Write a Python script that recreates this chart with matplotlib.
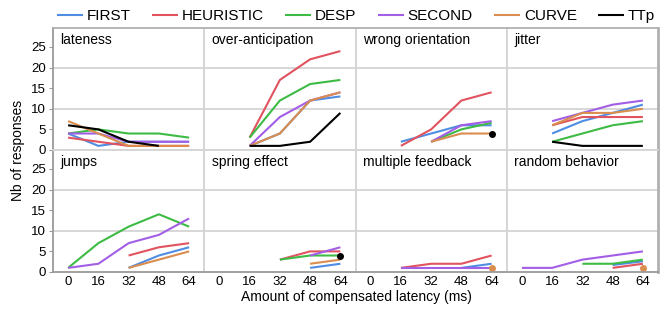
import numpy as np
import matplotlib.pyplot as plt

plt.rcParams['font.family'] = ['Liberation Sans', 'DejaVu Sans']

nan = np.nan
latency = [0, 16, 32, 48, 64]
panels = ['lateness', 'over-anticipation', 'wrong orientation', 'jitter',
          'jumps', 'spring effect', 'multiple feedback', 'random behavior']
series = ['FIRST', 'HEURISTIC', 'DESP', 'SECOND', 'CURVE', 'TTp']
colors = ['#4f8de3', '#e0535f', '#3dbb45', '#a35ee6', '#d98d4e', '#000000']

# one row per panel, one column per latency
first = [[4, 1, 2, 2, 2], [nan, 1, 4, 12, 13], [nan, 2, 4, 6, 6], [nan, 4, 7, 9, 11],
         [nan, nan, 1, 4, 6], [nan, nan, nan, 1, 2], [nan, nan, nan, 1, 2],
         [nan, nan, nan, 1.7, 2.6]]
heuristic = [[3, 2, 1, 1, 1], [nan, 3, 17, 22, 24], [nan, 1, 5, 12, 14], [nan, 6, 8, 8, 8],
             [nan, nan, 4, 6, 7], [nan, nan, 3, 5, 5], [nan, 1, 2, 2, 4],
             [nan, nan, nan, 1, 2]]
desp = [[4, 5, 4, 4, 3], [nan, 3, 12, 16, 17], [nan, nan, 2, 5, 6.6], [nan, 2, 4, 6, 7],
        [1, 7, 11, 14, 11], [nan, nan, 3, 4, 4], [nan, nan, nan, nan, nan],
        [nan, nan, 2, 2, 3]]
second = [[4, 4, 2, 2, 2], [nan, 1, 8, 12, 14], [nan, nan, 2, 6, 7], [nan, 7, 9, 11, 12],
          [1, 2, 7, 9, 13], [nan, nan, nan, 4, 6], [nan, 1, 1, 1, 1],
          [1, 1, 3, 4, 5]]
curve = [[7, 4, 1, 1, 1], [nan, 1, 4, 12, 14], [nan, nan, 2, 4, 4], [nan, 6, 9, 9, 10],
         [nan, nan, 1, 3, 5], [nan, nan, nan, 2, 3], [nan, nan, nan, nan, 1],
         [nan, nan, nan, nan, 1]]
ttp = [[6, 5, 2, 1, nan], [nan, 1, 1, 2, 9], [nan, nan, nan, nan, 4], [nan, 2, 1, 1, 1],
       [nan, nan, nan, nan, nan], [nan, nan, nan, nan, 4], [nan, nan, nan, nan, nan],
       [nan, nan, nan, nan, nan]]
all_series = [first, heuristic, desp, second, curve, ttp]

W, H = 668, 309
fig = plt.figure(figsize=(W / 100, H / 100), dpi=100)

x0, pw = 53, 151.25
rows_top = [28, 150]
ph = 122
light = '#d4d4d4'
dark = '#9a9a9a'

for i, name in enumerate(panels):
    r, c = divmod(i, 4)
    left = (x0 + c * pw) / W
    bottom = 1 - (rows_top[r] + ph) / H
    ax = fig.add_axes([left, bottom, pw / W, ph / H])
    ax.set_xlim(-8, 72)
    ax.set_ylim(0, 29.6)
    ax.set_yticks([0, 5, 10, 15, 20, 25])
    ax.set_xticks(latency)
    for y in (10, 20):
        ax.axhline(y, color=light, lw=1.3, zorder=0)

    for data, col, lab in zip(all_series, colors, series):
        vals = np.array(data[i], dtype=float)
        ax.plot(latency, vals, color=col, lw=1.5, label=lab if i == 0 else None,
                solid_capstyle='butt')
        if np.sum(~np.isnan(vals)) == 1:
            ax.plot(latency, vals, 'o', color=col, ms=4)

    ax.text(0.05, 0.96, name, transform=ax.transAxes, va='top', ha='left', fontsize=10)

    for s in ax.spines.values():
        s.set_color(light)
        s.set_linewidth(1.3)
    if c == 0:
        ax.spines['left'].set_color(dark)
        ax.tick_params(axis='y', length=3, color=dark, labelsize=9.5, pad=2)
    else:
        ax.tick_params(axis='y', length=0, labelleft=False)
    if c == 3:
        ax.spines['right'].set_color('#b0b0b0')
        ax.spines['right'].set_linewidth(2)
    if r == 0:
        ax.spines['top'].set_color('#b0b0b0')
        ax.tick_params(axis='x', length=0, labelbottom=False)
    else:
        ax.spines['bottom'].set_color(dark)
        ax.tick_params(axis='x', length=0, labelsize=9.5, pad=3)

handles, labels = fig.axes[0].get_legend_handles_labels()
fig.legend(handles, labels, ncol=6, loc='center', bbox_to_anchor=(356 / W, 1 - 16 / H),
           frameon=False, fontsize=11, handlelength=1.7, handletextpad=0.25,
           columnspacing=1.4, borderaxespad=0, borderpad=0)

fig.text(0.027, 1 - 150 / H, 'Nb of responses', rotation=90, va='center', ha='center',
         fontsize=10)
fig.text(0.533, 1 - 297 / H, 'Amount of compensated latency (ms)', va='center',
         ha='center', fontsize=10)

fig.savefig('out.png', dpi=100)
